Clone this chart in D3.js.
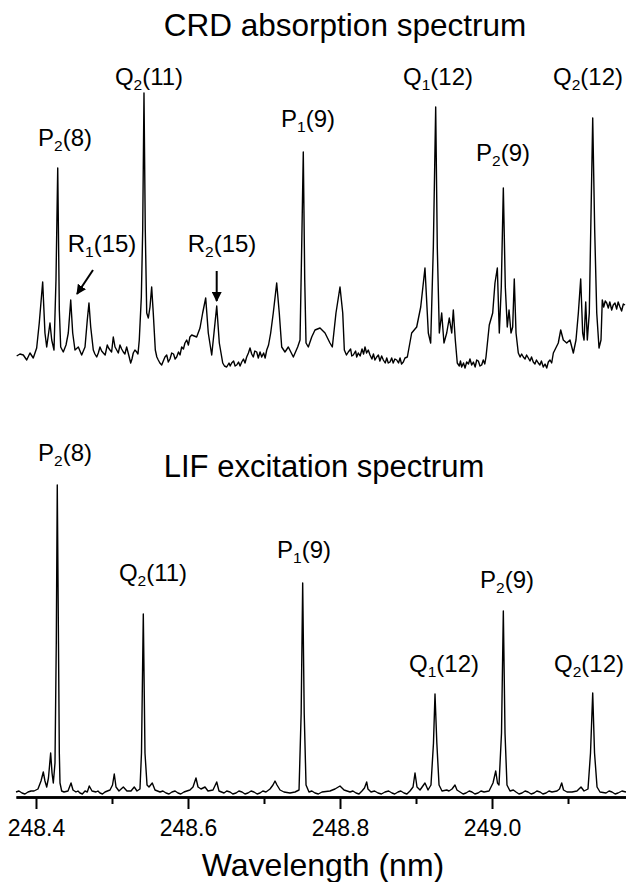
<!DOCTYPE html>
<html>
<head>
<meta charset="utf-8">
<script src="https://cdn.jsdelivr.net/npm/d3@7/dist/d3.min.js"></script>
<style>
  html, body { margin: 0; padding: 0; background: #fff; }
  svg { display: block; }
  text { font-family: "Liberation Sans", Arial, Helvetica, sans-serif; fill: #000; }
</style>
</head>
<body>
<svg id="chart" width="626" height="882"></svg>
<script>
// ---------------- DATA ----------------
// Wavelength (nm), signal (arb. units) pairs — main trace vertices
const crdSpectrum = [
  [248.3746,1],[248.3789,3],[248.3833,2],[248.3878,-3],[248.3921,4],[248.3964,-1],[248.4009,9],
  [248.4043,34],[248.4088,75],[248.4118,24],[248.4141,10],[248.4184,34],[248.4207,17],[248.4237,7],
  [248.4263,77],[248.4286,189],[248.4307,47],[248.4325,10],[248.4359,5],[248.4395,12],[248.4425,24],
  [248.4457,57],[248.4483,24],[248.4513,7],[248.4557,10],[248.4601,2],[248.4645,10],[248.4675,37],
  [248.4697,54],[248.4720,30],[248.4754,7],[248.4799,0],[248.4842,10],[248.4886,4],[248.4938,12],
  [248.4974,7],[248.5017,20],[248.5062,7],[248.5105,12],[248.5149,5],[248.5193,10],[248.5246,-6],
  [248.5280,4],[248.5325,5],[248.5359,17],[248.5386,60],[248.5404,127],[248.5421,264],[248.5438,127],
  [248.5457,44],[248.5478,39],[248.5500,50],[248.5522,70],[248.5543,44],[248.5570,7],[248.5609,-3],
  [248.5654,-8],[248.5697,0],[248.5741,-5],[248.5786,4],[248.5851,0],[248.5917,10],[248.5983,17],
  [248.6049,22],[248.6114,20],[248.6158,29],[248.6193,44],[248.6233,59],[248.6267,24],[248.6312,2],
  [248.6342,24],[248.6378,51],[248.6412,14],[248.6457,-6],[248.6509,-10],[248.6575,-6],[248.6641,-8],
  [248.6707,-5],[248.6772,0],[248.6816,9],[248.6859,0],[248.6904,5],[248.6970,0],[248.7036,7],
  [248.7088,24],[248.7122,44],[248.7167,74],[248.7201,44],[248.7233,10],[248.7276,5],[248.7320,10],
  [248.7386,0],[248.7443,10],[248.7474,17],[248.7496,110],[248.7517,205],[248.7536,77],[248.7553,14],
  [248.7583,10],[248.7628,20],[248.7671,27],[248.7737,29],[248.7803,24],[248.7868,14],[248.7899,10],
  [248.7947,44],[248.8000,70],[248.8036,44],[248.8057,7],[248.8109,5],[248.8175,2],[248.8241,4],
  [248.8329,10],[248.8395,2],[248.8483,0],[248.8570,-3],[248.8658,-5],[248.8746,-3],[248.8833,-5],
  [248.8886,0],[248.8943,24],[248.9009,30],[248.9062,50],[248.9118,89],[248.9162,24],[248.9193,14],
  [248.9228,110],[248.9259,250],[248.9280,110],[248.9307,24],[248.9338,44],[248.9368,14],[248.9404,24],
  [248.9438,39],[248.9470,24],[248.9491,47],[248.9517,17],[248.9543,-6],[248.9601,-10],[248.9667,-5],
  [248.9733,-8],[248.9799,-3],[248.9864,-8],[248.9921,0],[248.9964,32],[249.0009,44],[249.0039,74],
  [249.0070,89],[249.0096,24],[249.0122,70],[249.0149,169],[249.0175,70],[249.0201,30],[249.0224,47],
  [249.0250,24],[249.0272,30],[249.0293,78],[249.0316,24],[249.0346,4],[249.0412,0],[249.0478,-1],
  [249.0543,-5],[249.0609,-6],[249.0675,-10],[249.0741,-5],[249.0807,4],[249.0872,14],[249.0904,27],
  [249.0938,17],[249.0983,14],[249.1026,17],[249.1070,4],[249.1105,17],[249.1136,44],[249.1167,78],
  [249.1193,24],[249.1211,17],[249.1233,55],[249.1254,17],[249.1280,44],[249.1303,144],[249.1325,239],
  [249.1351,127],[249.1378,44],[249.1408,9],[249.1434,17],[249.1451,57],[249.1509,54],[249.1575,47],
  [249.1618,54],[249.1684,50],[249.1750,52]
];
// Extra baseline-noise vertices of the CRD trace (read from the flat stretches)
const crdNoise = [
  [248.4775,3],[248.4820,4],[248.4864,6],[248.4910,2],[248.4955,9],[248.4995,5],[248.5040,10],
  [248.5083,4],[248.5127,8],[248.5170,3],[248.5220,2],[248.5263,-2],[248.5302,7],[248.5342,3],
  [248.5590,0],[248.5630,-6],[248.5675,-4],[248.5720,2],[248.5763,-2],[248.5810,3],[248.5830,-2],
  [248.5875,5],[248.5895,2],[248.5940,8],[248.5960,14],[248.6005,12],[248.6025,20],
  [248.6480,-9],[248.6540,-6],[248.6555,-9],[248.6600,-4],[248.6620,-9],[248.6665,-5],[248.6685,-9],
  [248.6730,-2],[248.6750,-6],[248.6795,4],[248.6838,3],[248.6880,6],[248.6925,-1],[248.6948,5],
  [248.6995,4],[248.7015,-1],[248.7060,12],
  [248.8085,2],[248.8140,8],[248.8155,1],[248.8205,6],[248.8220,0],[248.8265,1],[248.8290,8],
  [248.8310,3],[248.8350,4],[248.8372,7],[248.8420,-2],[248.8440,3],[248.8460,-3],[248.8505,2],
  [248.8525,-4],[248.8548,1],[248.8595,-6],[248.8615,-1],[248.8635,-6],[248.8680,-1],[248.8700,-6],
  [248.8722,-2],[248.8770,-6],[248.8790,-1],[248.8810,-7],[248.8855,-1],
  [248.9570,-9],[248.9585,-4],[248.9625,-6],[248.9645,-11],[248.9690,-7],[248.9710,-2],[248.9755,-5],
  [248.9778,-10],[248.9820,-4],[248.9842,-9],[248.9885,-3],[248.9905,-7],
  [249.0370,0],[249.0390,3],[249.0435,-2],[249.0455,2],[249.0500,-4],[249.0520,0],[249.0565,-7],
  [249.0585,-3],[249.0630,-8],[249.0650,-4],[249.0698,-7],[249.0720,-11],[249.0763,-3],[249.0785,-6],
  [249.1470,50],[249.1490,56],[249.1530,49],[249.1550,55],[249.1595,52],[249.1640,48],[249.1660,55],
  [249.1705,46],[249.1728,53]
];

const lifSpectrum = [
  [248.3737,1],[248.3816,0],[248.3895,1],[248.3974,2],[248.4026,4],[248.4066,12],[248.4096,21],
  [248.4118,12],[248.4141,6],[248.4164,15],[248.4193,40],[248.4211,20],[248.4228,10],[248.4250,30],
  [248.4267,150],[248.4280,308],[248.4296,150],[248.4307,40],[248.4316,10],[248.4338,2],[248.4368,1],
  [248.4421,2],[248.4461,10],[248.4487,3],[248.4526,1],[248.4579,0],[248.4645,2],[248.4701,7],
  [248.4737,2],[248.4789,1],[248.4842,0],[248.4908,1],[248.4974,3],[248.5007,8],[248.5030,19],
  [248.5053,6],[248.5092,2],[248.5149,6],[248.5197,2],[248.5250,2],[248.5293,6],[248.5329,2],
  [248.5368,4],[248.5388,40],[248.5412,179],[248.5434,40],[248.5461,8],[248.5487,6],[248.5530,10],
  [248.5566,3],[248.5632,1],[248.5711,0],[248.5789,1],[248.5868,0],[248.5947,1],[248.6026,3],
  [248.6066,6],[248.6105,15],[248.6132,6],[248.6171,4],[248.6224,6],[248.6263,2],[248.6329,3],
  [248.6378,11],[248.6408,2],[248.6474,0],[248.6553,1],[248.6632,0],[248.6711,1],[248.6789,0],
  [248.6868,1],[248.6947,0],[248.7026,1],[248.7079,4],[248.7118,8],[248.7145,12],[248.7171,8],
  [248.7211,3],[248.7263,1],[248.7342,0],[248.7408,1],[248.7461,3],[248.7489,80],[248.7509,210],
  [248.7529,80],[248.7553,8],[248.7592,1],[248.7671,0],[248.7763,1],[248.7868,2],[248.7934,4],
  [248.8000,7],[248.8053,3],[248.8132,1],[248.8211,0],[248.8289,2],[248.8322,5],[248.8351,11],
  [248.8368,4],[248.8408,1],[248.8500,0],[248.8592,1],[248.8684,0],[248.8763,1],[248.8842,0],
  [248.8921,2],[248.8961,6],[248.8987,20],[248.9013,6],[248.9053,3],[248.9118,10],[248.9158,3],
  [248.9197,8],[248.9230,50],[248.9250,99],[248.9274,50],[248.9303,8],[248.9342,2],[248.9404,3],
  [248.9434,2],[248.9474,4],[248.9513,8],[248.9539,3],[248.9579,1],[248.9658,0],[248.9737,1],
  [248.9816,0],[248.9895,1],[248.9961,2],[249.0013,10],[249.0049,22],[249.0072,10],[249.0092,8],
  [249.0125,60],[249.0149,182],[249.0171,60],[249.0197,8],[249.0237,2],[249.0280,3],[249.0316,1],
  [249.0395,0],[249.0474,1],[249.0553,0],[249.0632,1],[249.0711,0],[249.0789,1],[249.0855,2],
  [249.0888,4],[249.0917,10],[249.0941,3],[249.0987,1],[249.1053,1],[249.1118,2],[249.1171,6],
  [249.1211,2],[249.1263,4],[249.1296,40],[249.1325,100],[249.1349,40],[249.1382,6],[249.1421,1],
  [249.1500,0],[249.1579,1],[249.1658,0],[249.1763,1]
];
// Extra baseline-noise vertices of the LIF trace
const lifNoise = [
  [248.3776,2],[248.3855,-1],[248.3935,2],[248.4552,2],[248.4610,-1],[248.4675,1],[248.4815,2],
  [248.4875,-1],[248.4940,2],[248.5670,2],[248.5750,-1],[248.5830,2],[248.5905,-1],[248.5985,2],
  [248.6510,2],[248.6590,-1],[248.6670,2],[248.6750,-1],[248.6830,2],[248.6910,-1],[248.6985,2],
  [248.7630,2],[248.7715,-1],[248.8170,2],[248.8250,-1],[248.8455,2],[248.8545,-1],[248.8640,2],
  [248.8720,-1],[248.8800,2],[248.8880,-1],[248.9620,-1],[248.9700,2],[248.9775,-1],[248.9855,2],
  [249.0355,-1],[249.0435,2],[249.0515,-1],[249.0590,2],[249.0670,-1],[249.0750,2],[249.1540,2],
  [249.1620,-1],[249.1710,2]
];

const majorTicks = [248.4, 248.6, 248.8, 249.0];
const minorTicks = [248.5, 248.7, 248.9, 249.1];

const crdTitle = "CRD absorption spectrum";
const lifTitle = "LIF excitation spectrum";
const xTitle = "Wavelength (nm)";

// Peak labels: [branch letter, subscript, rotational number]
const crdLabels = [["P","2","(8)"],["R","1","(15)"],["Q","2","(11)"],["R","2","(15)"],
                   ["P","1","(9)"],["Q","1","(12)"],["P","2","(9)"],["Q","2","(12)"]];
const lifLabels = [["P","2","(8)"],["Q","2","(11)"],["P","1","(9)"],
                   ["Q","1","(12)"],["P","2","(9)"],["Q","2","(12)"]];

// ---------------- LAYOUT ----------------
const crdLabelPos = [[65,146],[102,252],[149,85],[222,252],[308,127],[438,85],[503,161],[588,85]];
const lifLabelPos = [[65,461],[153,581],[304,558],[444,672],[507,588],[589,672]];
const arrows = [[[93,270],[77,294]], [[216.7,271],[216.7,301]]];

const svg = d3.select("#chart");

const x = d3.scaleLinear().domain([248.3737, 249.1763]).range([16, 626]);
const yTop = d3.scaleLinear().domain([0, 264]).range([357, 93]);
const yBot = d3.scaleLinear().domain([0, 308]).range([793, 485]);

// Titles
svg.append("text").attr("x", 345).attr("y", 36).attr("text-anchor", "middle")
  .attr("font-size", 31.5).text(crdTitle);
svg.append("text").attr("x", 324).attr("y", 477).attr("text-anchor", "middle")
  .attr("font-size", 31).text(lifTitle);

// Spectra
const crdAll = d3.sort(crdSpectrum.concat(crdNoise), d => d[0]);
const lifAll = d3.sort(lifSpectrum.concat(lifNoise), d => d[0]);
const lineTop = d3.line().x(d => x(d[0])).y(d => yTop(d[1]));
const lineBot = d3.line().x(d => x(d[0])).y(d => yBot(d[1]));
svg.append("path").datum(crdAll).attr("d", lineTop)
  .attr("fill", "none").attr("stroke", "#000").attr("stroke-width", 1.4).attr("stroke-linejoin", "round");
svg.append("path").datum(lifAll).attr("d", lineBot)
  .attr("fill", "none").attr("stroke", "#000").attr("stroke-width", 1.4).attr("stroke-linejoin", "round");

// Peak labels with subscripts
function drawLabels(labels, pos) {
  labels.forEach((l, i) => {
    const t = svg.append("text").attr("x", pos[i][0]).attr("y", pos[i][1])
      .attr("text-anchor", "middle").attr("font-size", 24);
    t.append("tspan").text(l[0]);
    t.append("tspan").attr("font-size", 15.5).attr("dy", 5).text(l[1]);
    t.append("tspan").attr("dy", -5).text(l[2]);
  });
}
drawLabels(crdLabels, crdLabelPos);
drawLabels(lifLabels, lifLabelPos);

// Arrows
svg.append("defs").append("marker").attr("id", "ah")
  .attr("viewBox", "0 0 10 10").attr("refX", 9).attr("refY", 5)
  .attr("markerWidth", 10).attr("markerHeight", 10).attr("markerUnits", "userSpaceOnUse")
  .attr("orient", "auto")
  .append("path").attr("d", "M0,0 L10,5 L0,10 Z").attr("fill", "#000");
arrows.forEach(a => {
  svg.append("line").attr("x1", a[0][0]).attr("y1", a[0][1]).attr("x2", a[1][0]).attr("y2", a[1][1])
    .attr("stroke", "#000").attr("stroke-width", 2).attr("marker-end", "url(#ah)");
});

// Axis
const gAxis = svg.append("g").attr("transform", "translate(0,797)");
gAxis.call(d3.axisBottom(x).tickValues(minorTicks).tickFormat("").tickSize(7).tickSizeOuter(0));
gAxis.append("g").call(d3.axisBottom(x).tickValues(majorTicks).tickFormat(d3.format(".1f"))
  .tickSize(12).tickSizeOuter(0).tickPadding(11));
gAxis.selectAll("path.domain").attr("stroke", "#000").attr("stroke-width", 2.5);
gAxis.selectAll(".tick line").attr("stroke", "#000").attr("stroke-width", 2);
gAxis.selectAll(".tick text").attr("font-size", 23).attr("fill", "#000")
  .attr("font-family", "Liberation Sans, Arial, sans-serif");

svg.append("text").attr("x", 323).attr("y", 876).attr("text-anchor", "middle")
  .attr("font-size", 32).text(xTitle);
</script>
</body>
</html>
